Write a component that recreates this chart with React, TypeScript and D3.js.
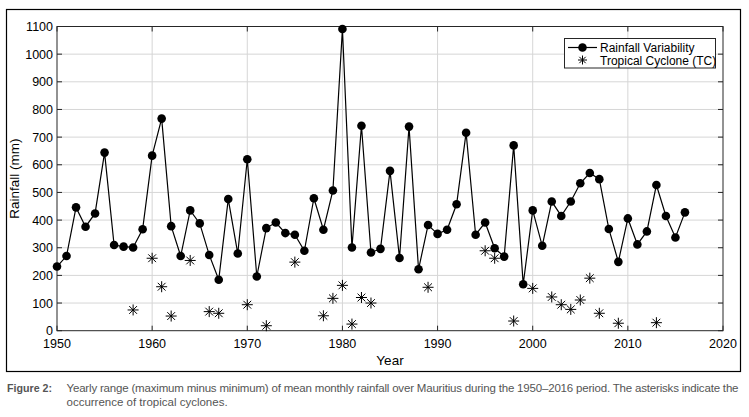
import React, { useRef, useEffect } from 'react';
import * as d3 from 'd3';

const years = [
  1950, 1951, 1952, 1953, 1954, 1955, 1956, 1957, 1958, 1959,
  1960, 1961, 1962, 1963, 1964, 1965, 1966, 1967, 1968, 1969,
  1970, 1971, 1972, 1973, 1974, 1975, 1976, 1977, 1978, 1979,
  1980, 1981, 1982, 1983, 1984, 1985, 1986, 1987, 1988, 1989,
  1990, 1991, 1992, 1993, 1994, 1995, 1996, 1997, 1998, 1999,
  2000, 2001, 2002, 2003, 2004, 2005, 2006, 2007, 2008, 2009,
  2010, 2011, 2012, 2013, 2014, 2015, 2016,
];

const rainfall = [
  232, 270, 446, 376, 424, 644, 310, 304, 301, 367,
  633, 767, 378, 270, 435, 388, 274, 184, 476, 279,
  620, 196, 371, 391, 353, 347, 289, 479, 365, 507,
  1091, 301, 741, 283, 296, 578, 263, 738, 222, 382,
  350, 365, 457, 716, 347, 391, 298, 268, 670, 168,
  435, 307, 467, 415, 467, 533, 570, 548, 368, 249,
  406, 312, 359, 527, 415, 337, 428,
];

const tcYears = [
  1958, 1960, 1961, 1962, 1964, 1966, 1967, 1970, 1972, 1975,
  1978, 1979, 1980, 1981, 1982, 1983, 1989, 1995, 1996, 1998,
  2000, 2002, 2003, 2004, 2005, 2006, 2007, 2009, 2013,
];

const tcValues = [
  75, 262, 159, 53, 254, 69, 63, 94, 18, 248,
  54, 117, 164, 24, 120, 100, 157, 289, 262, 35,
  153, 122, 94, 77, 111, 190, 63, 27, 29,
];

const xTicks = [1950, 1960, 1970, 1980, 1990, 2000, 2010, 2020];
const yTicks = [0, 100, 200, 300, 400, 500, 600, 700, 800, 900, 1000, 1100];

const W = 749;
const H = 417;
const FONT = 'Arial, "Liberation Sans", Helvetica, sans-serif';
const NARROW = '"Liberation Sans Narrow", "Arial Narrow", "Liberation Sans", sans-serif';

const App: React.FC = () => {
  const svgRef = useRef<SVGSVGElement | null>(null);

  useEffect(() => {
    if (!svgRef.current) return;
    const svg = d3.select(svgRef.current);
    svg.selectAll('*').remove();

    const plot = { left: 57, right: 723, top: 26.5, bottom: 330.7 };

    const x = d3.scaleLinear().domain([1950, 2020]).range([plot.left, plot.right]);
    const y = d3.scaleLinear().domain([0, 1100]).range([plot.bottom, plot.top]);

    svg.append('rect').attr('width', W).attr('height', H).attr('fill', '#fff');

    // outer figure frame
    svg.append('rect')
      .attr('x', 6.5).attr('y', 9.5)
      .attr('width', 734).attr('height', 362)
      .attr('fill', 'none').attr('stroke', '#000').attr('stroke-width', 1.2);

    // grid
    const grid = svg.append('g').attr('stroke', '#d6d6d6').attr('stroke-width', 1);
    grid.selectAll('line.gx')
      .data(xTicks.slice(1, -1))
      .join('line')
      .attr('x1', d => x(d)).attr('x2', d => x(d))
      .attr('y1', plot.top).attr('y2', plot.bottom);
    grid.selectAll('line.gy')
      .data(yTicks.slice(1, -1))
      .join('line')
      .attr('x1', plot.left).attr('x2', plot.right)
      .attr('y1', d => y(d)).attr('y2', d => y(d));

    // axes (ticks inward, box on all sides)
    const tl = 5;
    const axes = svg.append('g').attr('stroke', '#262626').attr('stroke-width', 1);
    axes.selectAll('line.xt')
      .data(xTicks)
      .join('line')
      .attr('x1', d => x(d)).attr('x2', d => x(d))
      .attr('y1', plot.bottom).attr('y2', plot.bottom - tl);
    axes.selectAll('line.xtt')
      .data(xTicks)
      .join('line')
      .attr('x1', d => x(d)).attr('x2', d => x(d))
      .attr('y1', plot.top).attr('y2', plot.top + tl);
    axes.selectAll('line.yt')
      .data(yTicks)
      .join('line')
      .attr('x1', plot.left).attr('x2', plot.left + tl)
      .attr('y1', d => y(d)).attr('y2', d => y(d));
    axes.selectAll('line.ytr')
      .data(yTicks)
      .join('line')
      .attr('x1', plot.right).attr('x2', plot.right - tl)
      .attr('y1', d => y(d)).attr('y2', d => y(d));
    axes.append('rect')
      .attr('x', plot.left).attr('y', plot.top)
      .attr('width', plot.right - plot.left).attr('height', plot.bottom - plot.top)
      .attr('fill', 'none');

    // tick labels
    svg.append('g')
      .selectAll('text')
      .data(xTicks)
      .join('text')
      .attr('x', d => x(d)).attr('y', plot.bottom + 17)
      .attr('text-anchor', 'middle')
      .attr('font-family', FONT).attr('font-size', 12.5).attr('fill', '#000')
      .text(d => d);
    svg.append('g')
      .selectAll('text')
      .data(yTicks)
      .join('text')
      .attr('x', plot.left - 4).attr('y', d => y(d) + 4.5)
      .attr('text-anchor', 'end')
      .attr('font-family', FONT).attr('font-size', 12.5).attr('fill', '#000')
      .text(d => d);

    // axis titles
    svg.append('text')
      .attr('x', (plot.left + plot.right) / 2).attr('y', 365)
      .attr('text-anchor', 'middle')
      .attr('font-family', FONT).attr('font-size', 13.5)
      .text('Year');
    svg.append('text')
      .attr('transform', `translate(19,${(plot.top + plot.bottom) / 2}) rotate(-90)`)
      .attr('text-anchor', 'middle')
      .attr('font-family', FONT).attr('font-size', 13.5)
      .text('Rainfall (mm)');

    // rainfall line
    const line = d3.line<number>()
      .x((_, i) => x(years[i]))
      .y(d => y(d));
    svg.append('path')
      .datum(rainfall)
      .attr('fill', 'none')
      .attr('stroke', '#000')
      .attr('stroke-width', 1.2)
      .attr('d', line);
    svg.append('g')
      .selectAll('circle')
      .data(rainfall)
      .join('circle')
      .attr('cx', (_, i) => x(years[i]))
      .attr('cy', d => y(d))
      .attr('r', 4.3)
      .attr('fill', '#000');

    // asterisk marker
    const star = (r: number) => {
      const d = r * Math.SQRT1_2;
      return `M0,${-r}V${r}M${-r},0H${r}M${-d},${-d}L${d},${d}M${-d},${d}L${d},${-d}`;
    };
    svg.append('g')
      .selectAll('path')
      .data(tcValues)
      .join('path')
      .attr('transform', (d, i) => `translate(${x(tcYears[i])},${y(d)})`)
      .attr('d', star(5.5))
      .attr('fill', 'none')
      .attr('stroke', '#000')
      .attr('stroke-width', 1);

    // legend
    const lg = svg.append('g');
    lg.append('rect')
      .attr('x', 564.5).attr('y', 38.5)
      .attr('width', 151).attr('height', 29.5)
      .attr('fill', '#fff').attr('stroke', '#262626').attr('stroke-width', 1);
    lg.append('line')
      .attr('x1', 568).attr('x2', 597).attr('y1', 47.5).attr('y2', 47.5)
      .attr('stroke', '#000').attr('stroke-width', 1.2);
    lg.append('circle').attr('cx', 582.5).attr('cy', 47.5).attr('r', 4.3).attr('fill', '#000');
    lg.append('path')
      .attr('transform', 'translate(582.5,60)')
      .attr('d', star(4.5))
      .attr('stroke', '#000').attr('stroke-width', 1);
    lg.append('text')
      .attr('x', 600).attr('y', 51.5)
      .attr('font-family', FONT).attr('font-size', 12)
      .text('Rainfall Variability');
    lg.append('text')
      .attr('x', 600).attr('y', 64.5)
      .attr('font-family', FONT).attr('font-size', 12)
      .text('Tropical Cyclone (TC)');

    // caption
    svg.append('text')
      .attr('x', 7).attr('y', 392)
      .attr('font-family', NARROW).attr('font-size', 11.5).attr('font-weight', 'bold')
      .attr('fill', '#555')
      .attr('textLength', 45).attr('lengthAdjust', 'spacingAndGlyphs')
      .text('Figure 2:');
    svg.append('text')
      .attr('x', 66.5).attr('y', 392)
      .attr('font-family', NARROW).attr('font-size', 11.5)
      .attr('fill', '#555')
      .attr('textLength', 672).attr('lengthAdjust', 'spacing')
      .text('Yearly range (maximum minus minimum) of mean monthly rainfall over Mauritius during the 1950\u20132016 period. The asterisks indicate the');
    svg.append('text')
      .attr('x', 66.5).attr('y', 406)
      .attr('font-family', NARROW).attr('font-size', 11.5)
      .attr('fill', '#555')
      .text('occurrence of tropical cyclones.');
  }, []);

  return (
    <svg
      ref={svgRef}
      width={W}
      height={H}
      style={{ position: 'absolute', left: 0, top: 0, display: 'block' }}
    />
  );
};

export default App;
